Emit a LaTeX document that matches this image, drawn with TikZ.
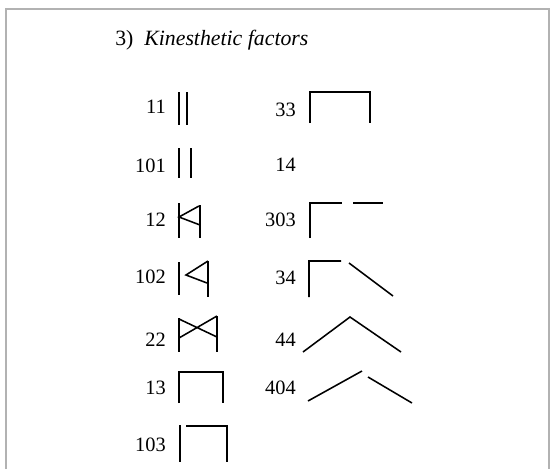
\documentclass[tikz,border=0pt]{standalone}
\usepackage{fontspec}
\setmainfont{Liberation Serif}
\begin{document}
\begin{tikzpicture}[x=0.025cm, y=-0.025cm]
\useasboundingbox (0,0) rectangle (560,469);
\draw [black!30, line width=0.8pt] (6,469) -- (6,9) -- (549,9) -- (549,469);
\node [anchor=base west, inner sep=0pt, font=\fontsize{15.5}{18}\selectfont] (title) at (115,45) {3)\enspace\textit{Kinesthetic factors}};
\begin{scope}[every node/.style={font=\fontsize{14.5}{16}\selectfont, inner sep=0pt, anchor=east}]
\foreach \lbl/\y in {11/107, 101/166, 12/220, 102/277, 22/340, 13/388, 103/445} {
  \node (n\lbl) at (166,\y) {\lbl};
}
\foreach \lbl/\y in {33/110, 14/165, 303/220, 34/278, 44/340, 404/388} {
  \node (n\lbl) at (296,\y) {\lbl};
}
\end{scope}
\begin{scope}[line width=1.1pt]
% left column
\draw (179,92) -- (179,125) (187,92) -- (187,125);
\draw (179,148) -- (179,178) (191,148) -- (191,178);
\draw (179,203) -- (179,238) (200,205) -- (200,238);
\draw (199,206) -- (179,217) -- (200,225);
\draw (179,262) -- (179,295) (208,261) -- (208,297);
\draw (208,261) -- (186,275) -- (207,283);
\draw (179,318) -- (179,352) (217,316) -- (217,352);
\draw (179,319) -- (217,337) (217,316) -- (179,338);
\draw (179,403) -- (179,372) -- (223,372) -- (223,403);
\draw (180,425) -- (180,462) (186,426) -- (227,426) -- (227,462);
% right column
\draw (310,123) -- (310,92) -- (370,92) -- (370,123);
\draw (310,238) -- (310,203) -- (342,203) (353,203) -- (383,203);
\draw (309,297) -- (309,261) -- (341,261) (349,263) -- (393,296);
\draw (303,352) -- (350,317) -- (401,352);
\draw (308,401) -- (362,371) (368,377) -- (412,403);
\end{scope}
\end{tikzpicture}
\end{document}
